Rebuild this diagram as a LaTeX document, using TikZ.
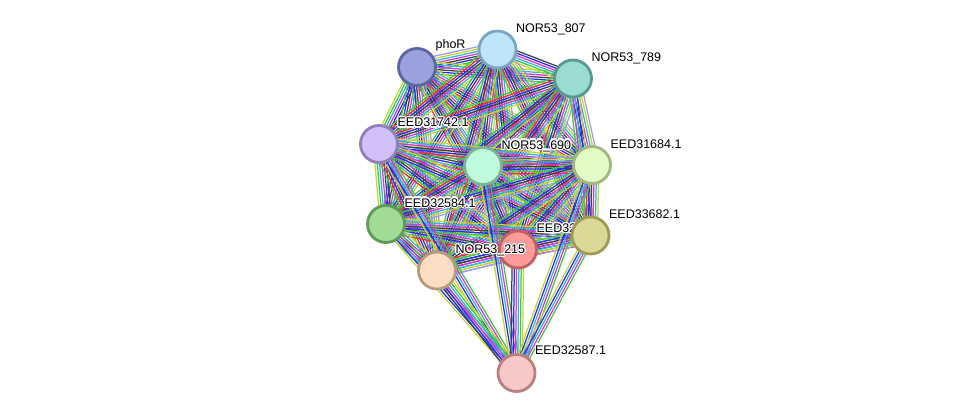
\documentclass[tikz,border=0pt]{standalone}
\usepackage{fontspec}
\setmainfont{Liberation Sans}
\usepackage{contour}
\contourlength{1.1pt}
\contournumber{16}
\usetikzlibrary{calc}
\definecolor{sg}{HTML}{3CCB3C}
\definecolor{sr}{HTML}{FF2A2A}
\definecolor{sb}{HTML}{2A2AFF}
\definecolor{sk}{HTML}{404040}
\definecolor{sm}{HTML}{DC34DC}
\definecolor{sc}{HTML}{2EB6DC}
\definecolor{sy}{HTML}{C4D62C}
\definecolor{sl}{HTML}{9C9CEE}
\pgfdeclarelayer{bg}
\pgfsetlayers{bg,main}
\def\cA{sg,sr,sb,sk,sm,sc,sy}
\def\cB{sg,sb,sk,sm,sc,sy,sl}
\def\cC{sr,sg,sb,sk,sm,sc,sy,sl}
\def\cD{sg,sb,sk,sm,sc,sy}
\def\cJ{sg,sm,sc,sb,sy}
\def\cK{sy,sg,sc,sm,sb,sk}
\newcommand\bund[3]{%
  \foreach \cc [count=\nn] in #3 {\xdef\bundn{\nn}}%
  \foreach \cc [count=\ii] in #3 {%
    \pgfmathsetmacro\off{(\ii-(\bundn+1)/2)*2.3}%
    \draw[draw=\cc] ($(#1.center)!\off pt!90:(#2.center)$) -- ($(#2.center)!\off pt!-90:(#1.center)$);
  }}
\newcommand\halo[1]{\contour{white}{#1}}
\begin{document}
\begin{tikzpicture}[x=1pt,y=-1pt,
  nd/.style={circle,minimum size=37pt,inner sep=0pt,line width=2.8pt},
  lbl/.style={anchor=base west,inner sep=0pt,font=\fontsize{12.5}{14}\selectfont,text=black},
  every path/.append style={line width=1.25pt}]
\useasboundingbox (0,0) rectangle (976,417);
% nodes and labels
\node[nd,fill={rgb,255:red,154;green,161;blue,220},draw={rgb,255:red,92;green,101;blue,164}] (P) at (417,67) {};
\node[lbl] (Pl) at ($(P)+(18,-18.5)$) {\halo{phoR}};
\node[nd,fill={rgb,255:red,190;green,230;blue,250},draw={rgb,255:red,122;green,166;blue,194}] (A) at (497.5,49.5) {};
\node[lbl] (Al) at ($(A)+(18,-17)$) {\halo{NOR53\_807}};
\node[nd,fill={rgb,255:red,154;green,220;blue,210},draw={rgb,255:red,88;green,152;blue,144}] (B) at (573,78.5) {};
\node[lbl] (Bl) at ($(B)+(18,-17)$) {\halo{NOR53\_789}};
\node[nd,fill={rgb,255:red,210;green,192;blue,250},draw={rgb,255:red,144;green,128;blue,186}] (C) at (379,144) {};
\node[lbl] (Cl) at ($(C)+(18,-17)$) {\halo{EED31742.1}};
\node[nd,fill={rgb,255:red,192;green,250;blue,220},draw={rgb,255:red,126;green,180;blue,150}] (D) at (483,166) {};
\node[lbl] (Dl) at ($(D)+(18,-17)$) {\halo{NOR53\_690}};
\node[nd,fill={rgb,255:red,226;green,250;blue,196},draw={rgb,255:red,160;green,184;blue,126}] (E) at (592,165) {};
\node[lbl] (El) at ($(E)+(18,-17)$) {\halo{EED31684.1}};
\node[nd,fill={rgb,255:red,160;green,220;blue,150},draw={rgb,255:red,96;green,154;blue,88}] (F) at (386,224) {};
\node[lbl] (Fl) at ($(F)+(18,-17)$) {\halo{EED32584.1}};
\node[nd,fill={rgb,255:red,250;green,154;blue,154},draw={rgb,255:red,192;green,96;blue,96}] (G) at (518,249.5) {};
\node[lbl] (Gl) at ($(G)+(18,-17)$) {\halo{EED32}};
\node[nd,fill={rgb,255:red,220;green,216;blue,152},draw={rgb,255:red,160;green,154;blue,84}] (H) at (590.5,235.5) {};
\node[lbl] (Hl) at ($(H)+(18,-17)$) {\halo{EED33682.1}};
\node[nd,fill={rgb,255:red,253;green,222;blue,196},draw={rgb,255:red,184;green,154;blue,124}] (I) at (437,270.5) {};
\node[lbl] (Il) at ($(I)+(18,-17)$) {\halo{NOR53\_215}};
\node[nd,fill={rgb,255:red,248;green,200;blue,200},draw={rgb,255:red,184;green,128;blue,128}] (J) at (516.5,373) {};
\node[lbl] (Jl) at ($(J)+(18,-19)$) {\halo{EED32587.1}};
% edges
\begin{pgfonlayer}{bg}
\fill[white] (0,0) rectangle (976,417);
\bund{P}{A}{\cB}\bund{P}{B}{\cD}\bund{P}{C}{\cK}\bund{P}{D}{\cC}\bund{P}{E}{\cA}
\bund{P}{F}{\cD}\bund{P}{G}{\cC}\bund{P}{H}{\cA}\bund{P}{I}{\cB}
\bund{A}{B}{\cK}\bund{A}{C}{\cA}\bund{A}{D}{\cC}\bund{A}{E}{\cB}\bund{A}{F}{\cD}
\bund{A}{G}{\cC}\bund{A}{H}{\cA}\bund{A}{I}{\cD}
\bund{B}{C}{\cA}\bund{B}{D}{\cC}\bund{B}{E}{\cB}\bund{B}{F}{\cD}\bund{B}{G}{\cC}
\bund{B}{H}{\cJ}\bund{B}{I}{\cA}
\bund{C}{D}{\cC}\bund{C}{E}{\cA}\bund{C}{F}{\cK}\bund{C}{G}{\cC}\bund{C}{H}{\cB}\bund{C}{I}{\cA}
\bund{D}{E}{\cC}\bund{D}{F}{\cA}\bund{D}{G}{\cC}\bund{D}{H}{\cB}\bund{D}{I}{\cC}
\bund{E}{F}{\cB}\bund{E}{G}{\cC}\bund{E}{H}{\cA}\bund{E}{I}{\cD}
\bund{F}{G}{\cC}\bund{F}{H}{\cD}\bund{F}{I}{\cA}
\bund{G}{H}{\cC}\bund{G}{I}{\cC}
\bund{H}{I}{\cB}
\bund{J}{C}{\cJ}\bund{J}{F}{\cJ}\bund{J}{I}{\cK}\bund{J}{D}{\cJ}\bund{J}{G}{\cK}
\bund{J}{E}{\cJ}\bund{J}{H}{\cJ}
\end{pgfonlayer}
\end{tikzpicture}
\end{document}
